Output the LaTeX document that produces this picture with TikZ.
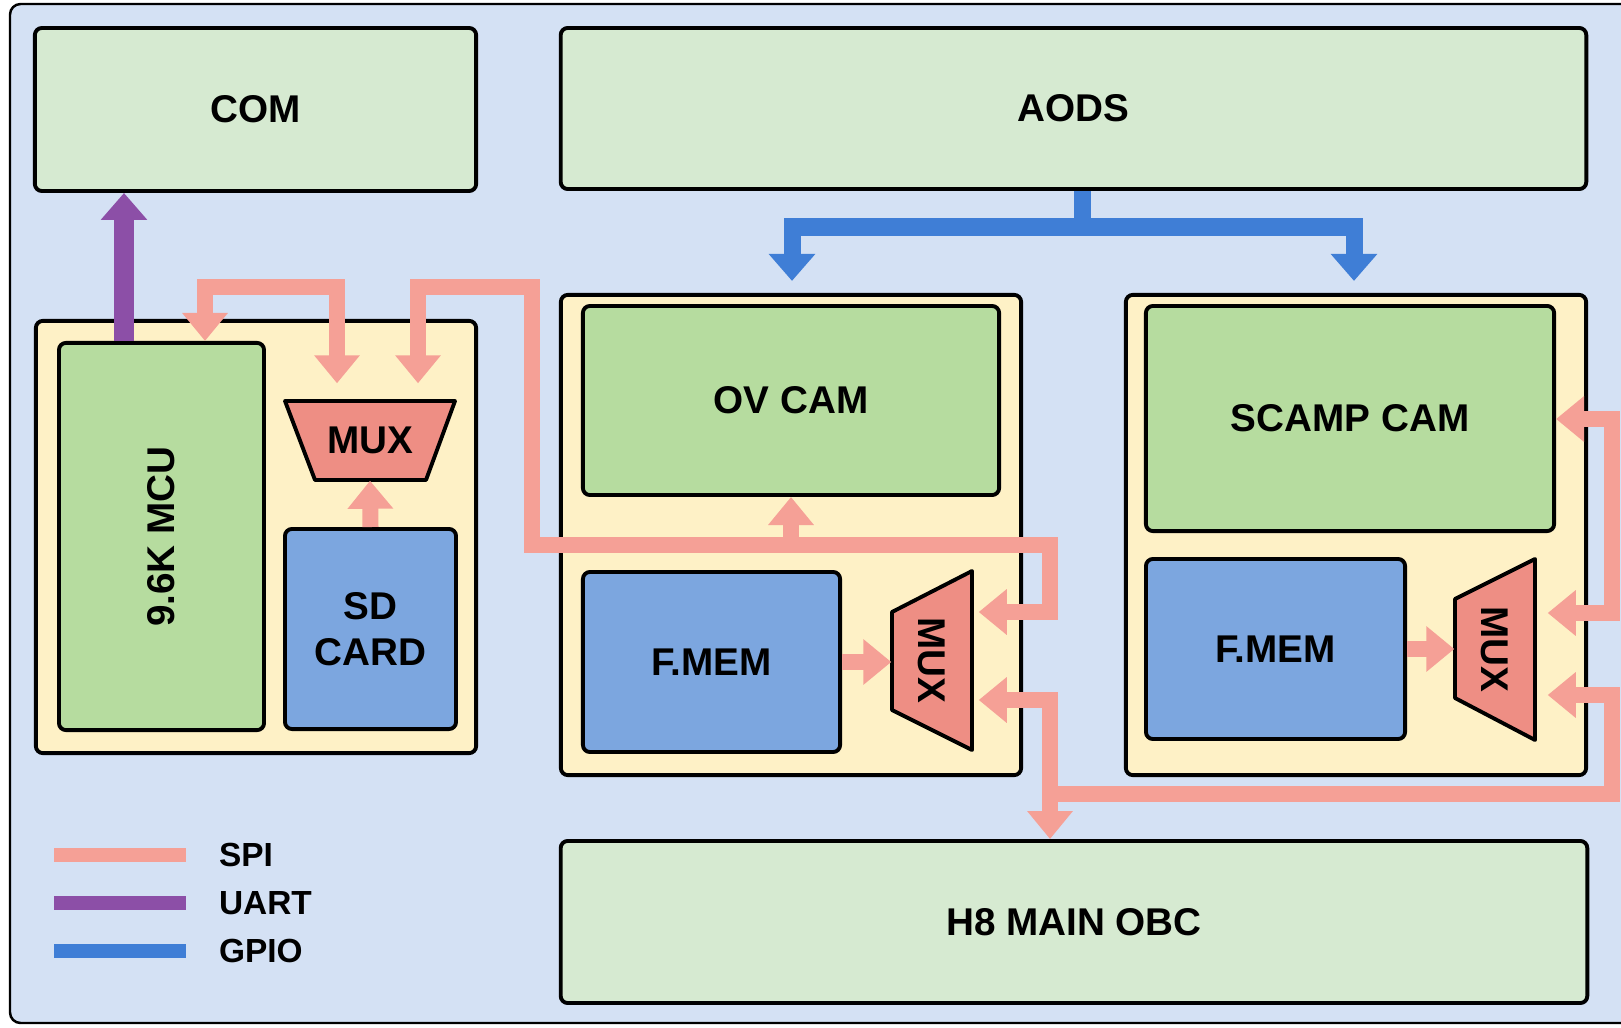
\documentclass[tikz,border=0pt]{standalone}
\usepackage{fontspec}
\setmainfont{Liberation Sans}
\usetikzlibrary{arrows.meta,positioning}
\definecolor{bgblue}{HTML}{D4E1F4}
\definecolor{lgreen}{HTML}{D6EAD1}
\definecolor{igreen}{HTML}{B6DC9F}
\definecolor{ylw}{HTML}{FEF1C6}
\definecolor{mblue}{HTML}{7CA6DF}
\definecolor{muxred}{HTML}{EE8E84}
\definecolor{spic}{HTML}{F5A096}
\definecolor{uartc}{HTML}{8C4FA7}
\definecolor{gpioc}{HTML}{3F7ED6}
\tikzset{
  box/.style={draw=black,line width=1.1pt,rounded corners=2pt,inner sep=0pt,align=center,font=\bfseries\fontsize{11}{13.2}\selectfont},
  gbox/.style={box,fill=lgreen},
  ibox/.style={box,fill=igreen},
  ybox/.style={box,fill=ylw},
  bbox/.style={box,fill=mblue},
  muxs/.style={draw=black,line width=1.1pt,fill=muxred,line join=round},
  muxl/.style={inner sep=0pt,font=\bfseries\fontsize{11}{13.2}\selectfont},
  spi/.style={line width=1.6mm,spic,-{Triangle[length=2.8mm,width=4.4mm]}},
  spi2/.style={spi,{Triangle[length=2.8mm,width=4.4mm]}-{Triangle[length=2.8mm,width=4.4mm]}},
  uart/.style={line width=2mm,uartc,-{Triangle[length=2.7mm,width=4.5mm]}},
  gpio/.style={line width=1.7mm,gpioc,-{Triangle[length=2.7mm,width=4.5mm]}},
  lg/.style={inner sep=0pt,text=black,font=\bfseries\fontsize{9.5}{11}\selectfont}
}
\begin{document}
\begin{tikzpicture}[x=0.01cm,y=-0.01cm]
\useasboundingbox (0,0) rectangle (1621,1027);
\fill[white] (0,0) rectangle (1621,1027);
\draw[fill=bgblue,line width=0.7pt,rounded corners=3pt] (10,4) rectangle (1660,1023);

\node[gbox,minimum width=4.41cm,minimum height=1.63cm] (com) at (255.5,109.5) {COM};
\node[gbox,minimum width=10.25cm,minimum height=1.61cm] (aods) at (1073.5,108.5) {AODS};

\node[ybox,minimum width=4.4cm,minimum height=4.32cm] (mcubox) at (256,537) {};
\node[ibox,minimum width=2.05cm,minimum height=3.87cm] (mcu) at (161.5,536.5) {\rotatebox{90}{9.6K MCU}};
\node[bbox,minimum width=1.71cm,minimum height=2cm] (sd) at (370.5,629) {SD\\CARD};
\draw[muxs] (285,401) -- (455,401) -- (426,480) -- (315,480) -- cycle;
\node[muxl,minimum width=1.7cm,minimum height=0.79cm] (muxA) at (370,440.5) {MUX};

\node[ybox,minimum width=4.6cm,minimum height=4.8cm] (ovbox) at (791,535) {};
\node[ibox,minimum width=4.16cm,minimum height=1.89cm] (ovcam) at (791,400.5) {OV CAM};
\node[bbox,minimum width=2.57cm,minimum height=1.8cm] (ovmem) at (711.5,662) {F.MEM};
\draw[muxs] (972,571) -- (972,750) -- (892,710) -- (892,612) -- cycle;
\node[muxl,minimum width=0.8cm,minimum height=1.79cm] (ovmux) at (932,660.5) {\rotatebox{-90}{MUX}};

\node[ybox,minimum width=4.6cm,minimum height=4.8cm] (scbox) at (1356,535) {};
\node[ibox,minimum width=4.08cm,minimum height=2.25cm] (sccam) at (1350,418.5) {SCAMP CAM};
\node[bbox,minimum width=2.59cm,minimum height=1.8cm] (scmem) at (1275.5,649) {F.MEM};
\draw[muxs] (1535,559) -- (1535,740) -- (1455,698) -- (1455,599) -- cycle;
\node[muxl,minimum width=0.8cm,minimum height=1.81cm] (scmux) at (1495,649.5) {\rotatebox{-90}{MUX}};

\node[gbox,minimum width=10.26cm,minimum height=1.62cm] (obc) at (1074,922) {H8 MAIN OBC};

\coordinate (ux) at (124,0);
\coordinate (ta) at (205,287);
\coordinate (tb) at (337,287);
\coordinate (tc) at (418,287);
\coordinate (td) at (532,287);
\coordinate (te) at (532,545);
\coordinate (tf) at (1050,545);
\coordinate (tg) at (1050,612);
\coordinate (bh) at (1050,700);
\coordinate (bj) at (1050,794);
\coordinate (bk) at (1612,794);
\coordinate (bl) at (1612,695);
\coordinate (rk) at (1612,419);
\coordinate (rl) at (1612,613);
\coordinate (ga) at (1082,227);
\coordinate (gb) at (792,227);
\coordinate (gc) at (1354,227);

\draw[uart] (mcu.north -| ux) -- (com.south -| ux);
\draw[spi2,shorten >=1.7mm] (mcu.north -| ta) -- (ta) -- (tb) -- (muxA.north -| tb);
\draw[spi2,shorten <=1.7mm,shorten >=0.6mm] (muxA.north -| tc) -- (tc) -- (td) -- (te) -- (tf) -- (tg) -- (ovmux.east |- tg);
\draw[spi] (ovcam.south |- te) -- (ovcam.south);
\draw[spi] (sd.north) -- (muxA.south);
\draw[spi] (ovmem.east) -- (ovmux.west |- ovmem.east);
\draw[spi] (scmem.east) -- (scmux.west |- scmem.east);
\draw[spi2,shorten <=0.6mm] (ovmux.east |- bh) -- (bh) -- (obc.north -| bh);
\draw[spi,shorten >=1.2mm] (bj) -- (bk) -- (bl) -- (scmux.east |- bl);
\draw[spi2,shorten <=1.2mm] (scmux.east |- rl) -- (rl) -- (rk) -- (sccam.east |- rk);
\draw[gpio,shorten >=1.2mm] (aods.south -| ga) -- (ga) -| (ovbox.north -| gb);
\draw[gpio,shorten >=1.2mm] (ga) -| (scbox.north -| gc);

\draw[line width=1.4mm,spic] (54,855) -- (186,855) node[lg,right=2.6mm] (lspi) {SPI};
\draw[line width=1.4mm,uartc] (54,903) -- (186,903) node[lg,right=2.6mm] (luart) {UART};
\draw[line width=1.4mm,gpioc] (54,951) -- (186,951) node[lg,right=2.6mm] (lgpio) {GPIO};
\end{tikzpicture}
\end{document}
